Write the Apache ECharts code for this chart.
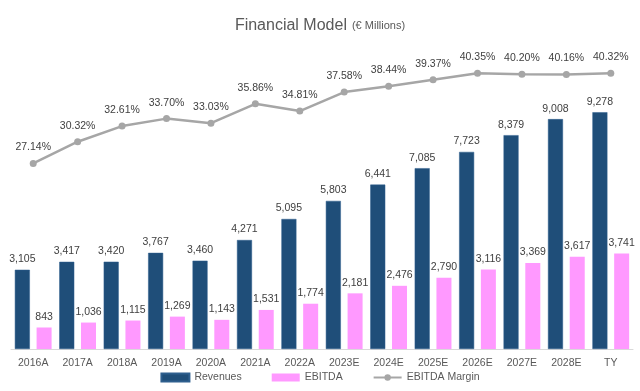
<!DOCTYPE html>
<html><head><meta charset="utf-8">
<script src="https://cdn.jsdelivr.net/npm/echarts@6/dist/echarts.min.js"></script>
<style>html,body{margin:0;padding:0;background:#fff}#c{width:640px;height:391px}</style>
</head><body><div id="c"></div>
<script>
const categories = ['2016A','2017A','2018A','2019A','2020A','2021A','2022A','2023E','2024E','2025E','2026E','2027E','2028E','TY'];
const revenues = [3105,3417,3420,3767,3460,4271,5095,5803,6441,7085,7723,8379,9008,9278];
const ebitda = [843,1036,1115,1269,1143,1531,1774,2181,2476,2790,3116,3369,3617,3741];
const ebitdaMargin = [27.14,30.32,32.61,33.70,33.03,35.86,34.81,37.58,38.44,39.37,40.35,40.20,40.16,40.32];

const font = 'Liberation Sans';
const txt = '#404040';
const chart = echarts.init(document.getElementById('c'), null, {renderer:'canvas'});
chart.setOption({
  animation:false,
  textStyle:{fontFamily:font},
  title:{
    text:'{a|Financial Model} {b|(€ Millions)}',
    left:'center', top:12,
    textStyle:{fontWeight:'normal',rich:{a:{fontSize:16,color:'#595959',fontFamily:font,fontWeight:'normal'},b:{fontSize:11,color:'#595959',fontFamily:font,fontWeight:'normal'}}}
  },
  legend:{
    bottom:3, left:'center', itemGap:30, itemWidth:28, itemHeight:8,
    textStyle:{fontSize:10.5,color:'#595959',fontFamily:font},
    data:[{name:'Revenues',icon:'rect'},{name:'EBITDA',icon:'rect'},{name:'EBITDA Margin'}]
  },
  grid:{left:11, right:7, top:40, bottom:42},
  xAxis:{
    type:'category', data:categories,
    axisLine:{lineStyle:{color:'#D9D9D9'}},
    axisTick:{show:false},
    axisLabel:{color:'#595959',fontSize:10.5,margin:9,fontFamily:font}
  },
  yAxis:[
    {type:'value',min:0,max:12108,show:false,splitLine:{show:false}},
    {type:'value',min:0,max:45.2,show:false,splitLine:{show:false}}
  ],
  series:[
    {name:'Revenues',type:'bar',data:revenues,barWidth:15,barGap:'45%',
     itemStyle:{color:'#1F4E79',borderColor:'#2E5F8E',borderWidth:0.5},
     label:{show:true,position:'top',distance:5,color:txt,fontSize:10.5,fontFamily:font,
       formatter:p=>p.value.toLocaleString('en-US')}},
    {name:'EBITDA',type:'bar',data:ebitda,barWidth:15,
     itemStyle:{color:'#FF99FF'},
     label:{show:true,position:'top',distance:5,color:txt,fontSize:10.5,fontFamily:font,
       formatter:p=>p.value.toLocaleString('en-US')}},
    {name:'EBITDA Margin',type:'line',yAxisIndex:1,data:ebitdaMargin,
     symbol:'circle',symbolSize:7,
     lineStyle:{color:'#A6A6A6',width:2.5},itemStyle:{color:'#A6A6A6'},
     label:{show:true,position:'top',distance:7,color:txt,fontSize:10.5,fontFamily:font,
       formatter:p=>p.value.toFixed(2)+'%'}}
  ]
});
</script></body></html>
